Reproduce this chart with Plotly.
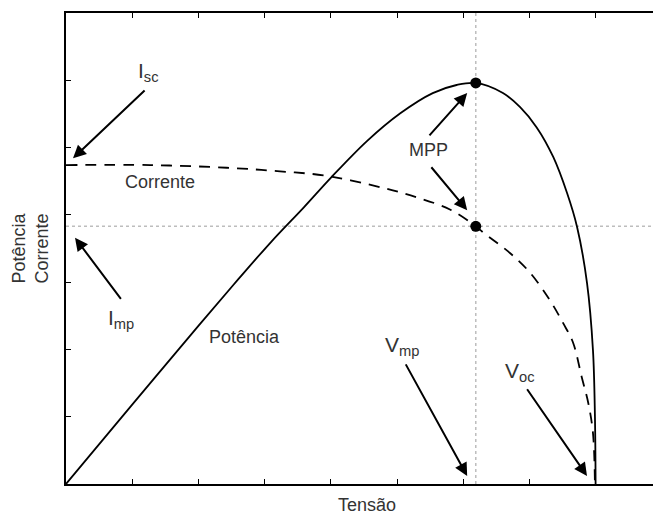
import plotly.graph_objects as go

# Power curve
power_v = [0, 1.0, 2.0, 2.6, 3.1, 3.6, 4.0, 4.55, 5.05, 5.54, 5.90, 6.19, 6.60, 6.86, 7.11, 7.36, 7.57, 7.72, 7.87, 7.96, 7.99, 8.0]
power_p = [0, 1.18, 2.35, 3.04, 3.60, 4.12, 4.55, 5.10, 5.51, 5.81, 5.93, 5.96, 5.81, 5.60, 5.30, 4.86, 4.32, 3.82, 2.99, 1.99, 1.00, 0]

# Current curve
curr_v = [0, 1.27, 2.43, 3.19, 3.94, 4.79, 5.30, 5.80, 6.19, 6.30, 6.71, 7.01, 7.31, 7.51, 7.66, 7.79, 7.89, 7.96, 7.99]
curr_i = [4.74, 4.74, 4.70, 4.65, 4.58, 4.40, 4.26, 4.08, 3.83, 3.74, 3.43, 3.14, 2.73, 2.39, 2.10, 1.59, 1.20, 0.76, 0]

# Maximum power point
vmp = 6.19
pmp = 5.96
imp = 3.83

x_max = 8.867
y_max = 7.0
x_ticks = [0, 1, 2, 3, 4, 5, 6, 7, 8]
y_ticks = [0, 1, 2, 3, 4, 5, 6, 7]

TXT = "#333333"
FONT = "Liberation Sans, Arial, sans-serif"

fig = go.Figure()

# dotted guide lines
fig.add_trace(go.Scatter(x=[vmp, vmp], y=[0, y_max], mode="lines",
                         line=dict(color="#bdbdbd", width=1.5, dash="dot"), hoverinfo="skip"))
fig.add_trace(go.Scatter(x=[0, x_max], y=[imp, imp], mode="lines",
                         line=dict(color="#bdbdbd", width=1.5, dash="dot"), hoverinfo="skip"))

fig.add_trace(go.Scatter(x=power_v, y=power_p, mode="lines", line_shape="spline",
                         line=dict(color="black", width=1.8, smoothing=1.0)))
fig.add_trace(go.Scatter(x=curr_v, y=curr_i, mode="lines", line_shape="spline",
                         line=dict(color="black", width=1.8, dash="11px,8px", smoothing=1.0)))
fig.add_trace(go.Scatter(x=[vmp, vmp], y=[pmp, imp], mode="markers",
                         marker=dict(color="black", size=11)))

def arrow(hx, hy, tx, ty):
    fig.add_annotation(x=hx, y=hy, ax=tx, ay=ty, xref="x", yref="y", axref="x", ayref="y",
                       text="", showarrow=True, arrowhead=2, arrowsize=1.3, arrowwidth=2,
                       arrowcolor="black")

def label(x, y, t, size=18):
    fig.add_annotation(x=x, y=y, xref="x", yref="y", text=t, showarrow=False,
                       font=dict(size=size, color=TXT, family=FONT))

arrow(0.106, 4.84, 1.21, 5.87)
arrow(0.136, 3.66, 0.846, 2.73)
arrow(6.06, 5.81, 5.47, 5.16)
arrow(6.06, 4.07, 5.50, 4.73)
arrow(6.06, 0.12, 5.12, 1.80)
arrow(7.87, 0.12, 6.95, 1.43)

label(1.24, 6.12, "I<sub>sc</sub>", 21)
label(0.83, 2.45, "I<sub>mp</sub>", 21)
label(5.48, 4.96, "MPP")
label(5.08, 2.05, "V<sub>mp</sub>", 21)
label(6.86, 1.66, "V<sub>oc</sub>", 21)
label(1.42, 4.49, "Corrente")
label(2.69, 2.18, "Potência")

fig.add_annotation(x=(367 - 66) / 587, y=-0.0, xref="paper", yref="paper", yanchor="top", yshift=-9,
                   text="Tensão", showarrow=False, font=dict(size=18, color=TXT, family=FONT))
fig.add_annotation(x=0, y=0.5, xref="paper", yref="paper", textangle=-90, xanchor="center",
                   xshift=-36,
                   text="Potência<br>Corrente", showarrow=False,
                   font=dict(size=18, color=TXT, family=FONT))

fig.update_layout(
    width=653, height=514,
    margin=dict(l=66, r=0, t=13, b=30),
    plot_bgcolor="white", paper_bgcolor="white",
    showlegend=False,
)
fig.update_xaxes(range=[0, x_max], showgrid=False, zeroline=False, showline=True, linecolor="black",
                 linewidth=2, mirror="ticks", ticks="inside", ticklen=5, tickwidth=1.3, tickcolor="black",
                 tickvals=x_ticks, showticklabels=False)
fig.update_yaxes(range=[0, y_max], showgrid=False, zeroline=False, showline=True, linecolor="black",
                 linewidth=2, ticks="inside", ticklen=5, tickwidth=1.3, tickcolor="black",
                 tickvals=y_ticks, showticklabels=False)

fig.write_html("out.html")
